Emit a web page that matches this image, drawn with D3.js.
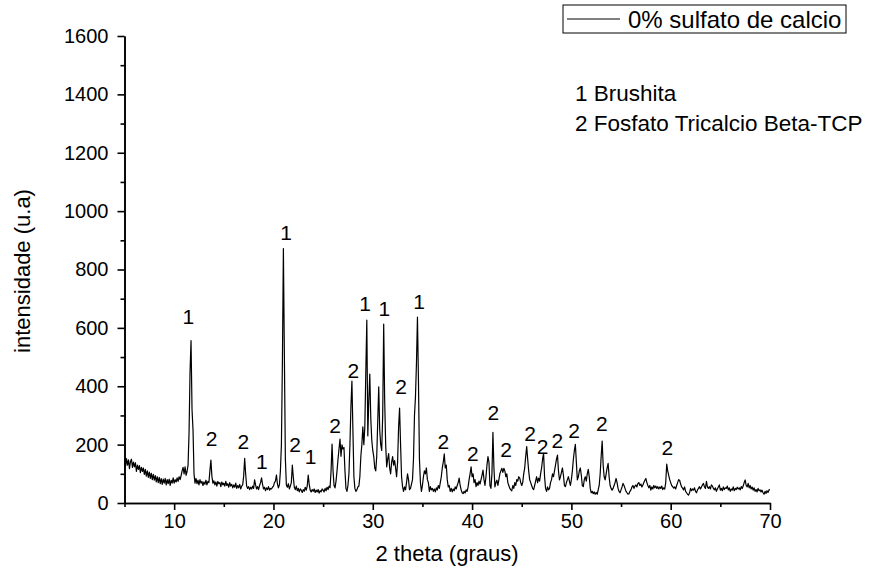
<!DOCTYPE html>
<html><head><meta charset="utf-8">
<script src="https://cdn.jsdelivr.net/npm/d3@7"></script>
<style>
body{margin:0;background:#fff;}
svg{display:block;font-family:"Liberation Sans",Arial,sans-serif;}
</style>
</head><body><svg id="chart" width="883" height="572"></svg>
<script>
// ---- data ----
const thetaStart = 5, thetaStep = 0.1;   // 2θ sampling of the pattern
const intensity = [
150,125,152,130,148,118,142,150,122,140,
124,138,108,130,115,128,104,122,108,120,
98,115,92,110,88,106,84,102,80,98,
78,94,72,90,70,88,66,84,64,82,
68,84,62,80,66,82,60,78,68,86,
68,80,72,86,74,90,80,94,110,122,
100,124,95,108,130,240,450,556,320,250,
100,68,84,66,78,62,80,68,74,60,
72,64,78,62,74,70,110,147,92,68,
76,62,72,58,74,66,70,56,72,62,
68,58,74,60,66,54,70,58,64,52,
62,54,68,50,60,52,64,48,58,62,
92,153,100,58,50,56,46,54,48,58,
50,79,62,48,56,46,60,70,86,64,
48,54,42,52,46,56,44,50,48,54,
58,70,75,96,66,52,62,110,200,480,
872,500,150,62,54,66,48,58,70,130,
88,54,46,58,42,50,38,48,44,36,
46,40,54,44,58,96,64,44,38,46,
40,48,36,44,38,46,34,42,38,48,
44,38,50,42,54,46,58,52,110,202,
110,60,52,75,110,150,185,219,160,199,
185,190,110,50,40,60,100,200,330,418,
250,90,50,40,45,55,58,90,160,200,
261,200,260,450,627,230,350,442,290,216,
180,159,120,110,160,280,398,250,200,180,
300,613,350,200,124,150,169,120,100,140,
159,130,145,120,90,140,260,325,200,90,
56,40,55,45,70,100,80,46,50,65,
80,150,300,364,480,637,420,150,70,40,
60,90,110,100,120,80,70,40,56,45,
50,40,48,38,52,45,60,50,70,90,
120,140,168,120,130,80,55,60,40,50,
38,48,42,55,48,60,70,85,60,45,
35,32,40,34,45,40,55,80,100,124,
90,100,70,80,56,70,60,75,65,80,
95,113,80,60,90,130,159,140,60,50,
100,242,120,55,70,78,60,80,100,110,
119,105,119,110,90,100,70,60,50,45,
42,60,50,70,60,80,75,90,85,70,
60,70,100,120,160,193,150,110,80,70,
60,50,46,60,75,90,70,85,75,100,
120,150,170,90,50,40,55,45,50,70,
80,100,90,110,130,150,164,110,79,90,
105,120,95,60,56,70,80,90,75,60,
80,110,150,180,201,140,79,90,110,120,
95,60,56,80,90,75,100,115,90,50,
35,40,32,38,30,36,30,45,60,100,
160,212,130,90,79,100,120,136,90,60,
50,44,50,60,70,84,70,50,40,35,
45,55,67,60,50,40,35,30,32,40,
45,55,60,50,58,62,55,67,70,60,
65,55,62,70,78,84,70,60,52,60,
44,55,48,60,52,58,50,56,48,55,
50,58,46,52,48,70,133,110,95,80,
70,60,56,51,55,48,60,70,80,78,
65,55,51,45,55,40,35,30,27,35,
50,42,48,44,52,40,35,45,50,56,
48,55,62,67,55,50,74,55,50,56,
48,62,58,50,45,52,40,48,55,62,
44,50,42,55,46,52,50,58,45,52,
40,48,44,55,42,50,46,54,48,52,
45,56,50,58,70,79,60,55,67,52,
60,48,55,44,52,40,46,38,50,42,
45,38,44,35,30,40,33,42,36,45,
46
];

const xTicks = [10, 20, 30, 40, 50, 60, 70];
const xMinorTicks = [5, 15, 25, 35, 45, 55, 65];
const yTicks = [0, 200, 400, 600, 800, 1000, 1200, 1400, 1600];
const yMinorTicks = [100, 300, 500, 700, 900, 1100, 1300, 1500];

// peak annotations: phase number placed above peaks
const peakLabelTheta = [11.42, 13.78, 16.96, 18.82, 21.26, 22.17, 23.75, 26.2, 28.04, 29.22, 31.16, 32.84, 34.66, 37.1, 40.07, 42.14, 43.42, 45.84, 47.11, 48.58, 50.27, 53.06, 59.66];
const peakLabelY     = [638, 222, 210, 141, 928, 199, 159, 267, 455, 684, 667, 398, 689, 210, 170, 309, 185, 239, 193, 216, 250, 273, 191];
const peakLabelText  = ["1","2","2","1","1","2","1","2","2","1","1","2","1","2","2","2","2","2","2","2","2","2","2"];

const seriesName = "0% sulfato de calcio";
const phaseNotes = ["1 Brushita", "2 Fosfato Tricalcio Beta-TCP"];
const xTitle = "2 theta (graus)";
const yTitle = "intensidade (u.a)";

// ---- drawing ----
const svg = d3.select("#chart");
const x = d3.scaleLinear().domain([5, 70]).range([124.5, 770]);
const y = d3.scaleLinear().domain([0, 1600]).range([503, 36]);

const points = intensity.map((v, i) => ({t: thetaStart + i * thetaStep, v}));

// data line
svg.append("path")
  .datum(points)
  .attr("fill", "none")
  .attr("stroke", "#000")
  .attr("stroke-width", 1.2)
  .attr("stroke-linejoin", "round")
  .attr("d", d3.line().x(d => x(d.t)).y(d => y(d.v)));

// axes
function styleAxis(g) {
  g.select(".domain").attr("stroke", "#000").attr("stroke-width", 1.6);
  g.selectAll(".tick line").attr("stroke", "#000").attr("stroke-width", 1.6);
  g.selectAll(".tick text").attr("fill", "#000").attr("font-size", 20)
    .attr("font-family", "'Liberation Sans', Arial, sans-serif");
}
const gxMinor = svg.append("g").attr("transform", "translate(0,503)")
  .call(d3.axisBottom(x).tickValues(xMinorTicks).tickSize(4).tickSizeOuter(0).tickFormat(""));
styleAxis(gxMinor);
const gx = svg.append("g").attr("transform", "translate(0,503)")
  .call(d3.axisBottom(x).tickValues(xTicks).tickSize(7).tickPadding(4).tickSizeOuter(0).tickFormat(d3.format("d")));
styleAxis(gx);

const gyMinor = svg.append("g").attr("transform", "translate(124.5,0)")
  .call(d3.axisLeft(y).tickValues(yMinorTicks).tickSize(4).tickSizeOuter(0).tickFormat(""));
styleAxis(gyMinor);
const gy = svg.append("g").attr("transform", "translate(124.5,0)")
  .call(d3.axisLeft(y).tickValues(yTicks).tickSize(7).tickPadding(9).tickSizeOuter(0).tickFormat(d3.format("d")));
styleAxis(gy);

// axis titles
svg.append("text").attr("x", 447).attr("y", 561).attr("text-anchor", "middle")
  .attr("font-size", 22).attr("fill", "#000").text(xTitle);
svg.append("text").attr("transform", "translate(30,271) rotate(-90)").attr("text-anchor", "middle")
  .attr("font-size", 22).attr("fill", "#000").text(yTitle);

// peak labels
svg.append("g").selectAll("text")
  .data(peakLabelText.map((s, i) => ({s, t: peakLabelTheta[i], v: peakLabelY[i]})))
  .join("text")
  .attr("x", d => x(d.t)).attr("y", d => y(d.v)).attr("dy", "0.36em")
  .attr("text-anchor", "middle").attr("font-size", 21).attr("fill", "#000")
  .text(d => d.s);

// legend box
const lg = svg.append("g");
lg.append("rect").attr("x", 563).attr("y", 5).attr("width", 283).attr("height", 28)
  .attr("fill", "#fff").attr("stroke", "#000").attr("stroke-width", 1);
lg.append("line").attr("x1", 567).attr("x2", 620).attr("y1", 19).attr("y2", 19)
  .attr("stroke", "#000").attr("stroke-width", 1);
lg.append("text").attr("x", 628).attr("y", 19).attr("dy", "0.36em")
  .attr("font-size", 24).attr("fill", "#000").text(seriesName);

// phase notes
svg.append("g").selectAll("text").data(phaseNotes).join("text")
  .attr("x", 575).attr("y", (d, i) => 93 + i * 30).attr("dy", "0.36em")
  .attr("font-size", 22.5).attr("fill", "#000").text(d => d);
</script>
</body></html>
